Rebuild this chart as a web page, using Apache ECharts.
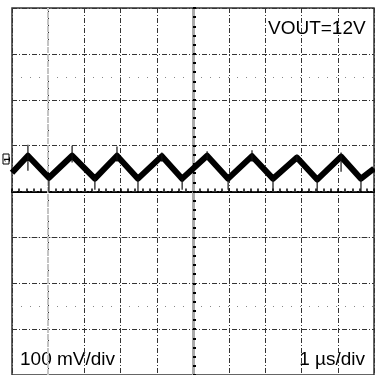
<!DOCTYPE html>
<html><head><meta charset="utf-8">
<script src="https://cdn.jsdelivr.net/npm/echarts@6/dist/echarts.min.js"></script>
<style>html,body{margin:0;padding:0;background:#fff}#c{width:375px;height:375px}</style>
</head><body><div id="c"></div>
<script>
// time in µs relative to screen centre, voltage in mV relative to centre line
const startPoint = [-5, 41];
const endPoint = [5, 50];
const peakX = [-4.56, -3.34, -2.10, -0.86, 0.39, 1.63, 2.87, 4.09];
const peakY = [78, 78, 78, 77, 78, 77, 74, 76];
const troughX = [-3.98, -2.71, -1.52, -0.30, 0.97, 2.21, 3.43, 4.64];
const troughY = [30, 28, 28, 28, 28, 28, 26, 28];
const peakSpikeHi = [102, 100, 98, 85, 88, 90, 80, 85];
const peakSpikeLo = [45, 63, 65, 65, 70, 65, 65, 43];
const troughSpikeLo = [-2, 4, 0, 4, 4, 0, 0, 0];
const xTicks = [-5, 5, 1];      // min, max, interval (µs)
const yTicks = [-400, 400, 100]; // min, max, interval (mV)
const labelVolt = 'VOUT=12V';
const labelYScale = '100 mV/div';
const labelXScale = '1 µs/div';

const wave = [startPoint];
for (let i = 0; i < peakX.length; i++) {
  wave.push([peakX[i], peakY[i]]);
  wave.push([troughX[i], troughY[i]]);
}
wave.push(endPoint);

const spikes = [];
for (let i = 0; i < peakX.length; i++) {
  spikes.push([peakX[i], peakSpikeHi[i]], [peakX[i], peakSpikeLo[i]], [peakX[i], '-']);
  spikes.push([troughX[i], troughY[i]], [troughX[i], troughSpikeLo[i]], [troughX[i], '-']);
}

const dashDot = [5, 2, 1, 2];
const chart = echarts.init(document.getElementById('c'), null, {renderer: 'canvas'});
chart.setOption({
  animation: false,
  backgroundColor: '#fff',
  grid: {left: 12, top: 8, width: 362, height: 369, show: true, borderColor: '#333', borderWidth: 1.5, backgroundColor: 'transparent'},
  xAxis: {
    type: 'value', min: xTicks[0], max: xTicks[1], interval: xTicks[2],
    axisLabel: {show: false},
    axisLine: {show: true, onZero: true, lineStyle: {color: '#000', width: 2}},
    axisTick: {show: true, inside: true, length: 3, lineStyle: {color: '#000', width: 1.5}},
    minorTick: {show: true, splitNumber: 5, length: 3, lineStyle: {color: '#000', width: 1.5}},
    splitLine: {show: true, lineStyle: {color: '#333', width: 1, type: dashDot}}
  },
  yAxis: {
    type: 'value', min: yTicks[0], max: yTicks[1], interval: yTicks[2], z: 8,
    axisLabel: {show: false},
    axisLine: {show: false},
    axisTick: {show: true, inside: true, length: 3, lineStyle: {color: '#000', width: 2}},
    minorTick: {show: true, splitNumber: 5, length: 3, lineStyle: {color: '#000', width: 2}},
    splitLine: {show: true, lineStyle: {color: '#333', width: 1, type: dashDot}}
  },
  series: [
    {
      type: 'line', data: [], silent: true, z: 4,
      markLine: {
        silent: true, symbol: 'none', label: {show: false},
        data: [
          {yAxis: 250, lineStyle: {color: '#888', width: 1, type: [1, 8]}},
          {yAxis: -250, lineStyle: {color: '#888', width: 1, type: [1, 8]}},
          {yAxis: -100, lineStyle: {color: '#bbb', width: 1, type: [4, 2]}},
          {xAxis: -4, lineStyle: {color: '#c4c4c4', width: 2, type: [6, 1]}},
          {xAxis: 0, lineStyle: {color: '#aaa', width: 3, type: 'solid'}}
        ]
      }
    },
    {
      type: 'line', data: wave, symbol: 'none', z: 5,
      lineStyle: {color: '#000', width: 6, join: 'round'}
    },
    {
      type: 'line', data: spikes, symbol: 'none', connectNulls: false, z: 6,
      lineStyle: {color: '#111', width: 1.2}
    }
  ],
  graphic: [
    {type: 'text', left: 268, top: 19, style: {text: labelVolt, font: '19px "Liberation Sans", Arial, sans-serif', fill: '#000'}},
    {type: 'text', left: 20, top: 350, style: {text: labelYScale, font: '19px "Liberation Sans", Arial, sans-serif', fill: '#000'}},
    {type: 'text', right: 10, top: 350, style: {text: labelXScale, font: '19px "Liberation Sans", Arial, sans-serif', fill: '#000'}},
    {type: 'text', x: 3, y: 162, rotation: Math.PI / 2, style: {text: '1', font: 'bold 9px "Liberation Sans", Arial, sans-serif', fill: '#000'}},
    {type: 'rect', shape: {x: 3, y: 154, width: 6, height: 10}, style: {fill: 'none', stroke: '#000', lineWidth: 1}}
  ]
});
</script></body></html>
